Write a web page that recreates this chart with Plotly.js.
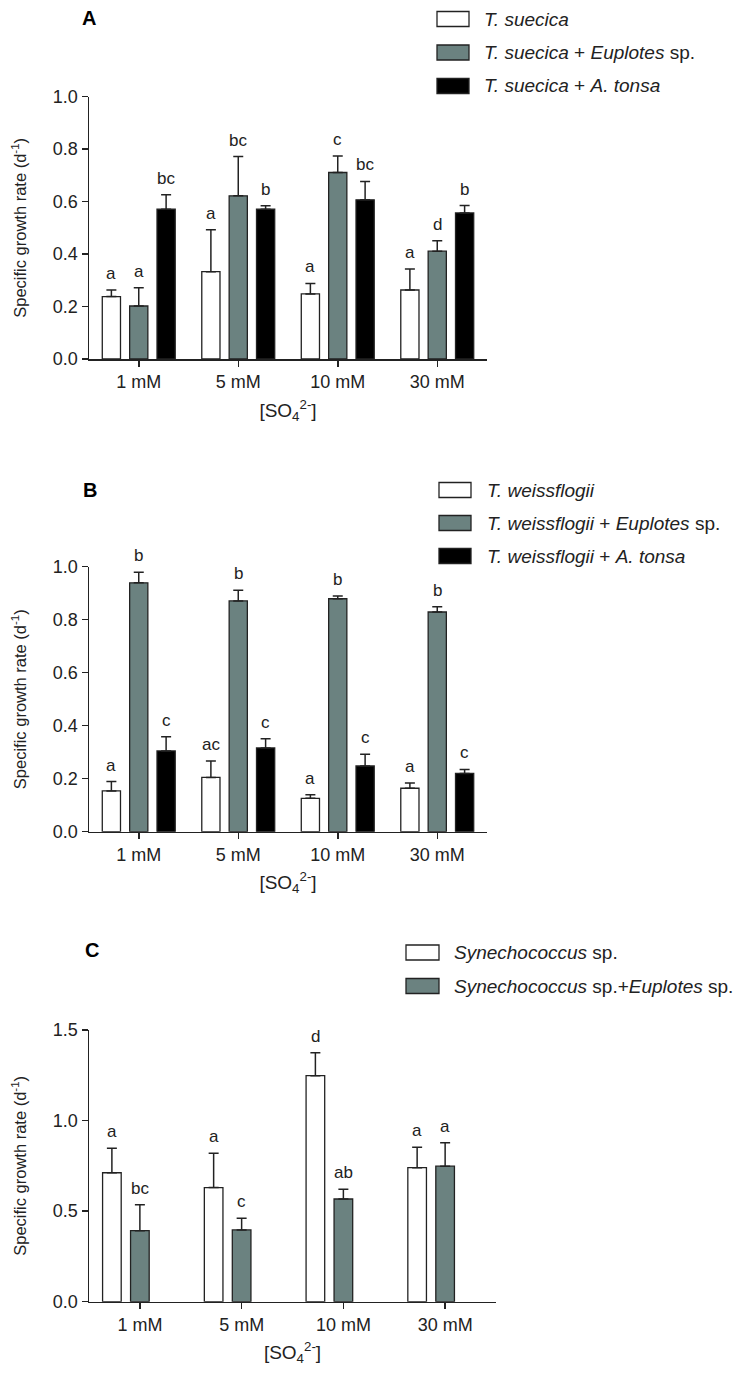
<!DOCTYPE html>
<html>
<head>
<meta charset="utf-8">
<script src="https://cdn.plot.ly/plotly-3.0.1.min.js"></script>
<style>html,body{margin:0;padding:0;background:#fff;}#chart{width:754px;height:1378px;}</style>
</head>
<body>
<div id="chart"></div>
<script>
// ---------- DATA ----------
const categories = ['1 mM', '5 mM', '10 mM', '30 mM'];

// Panel A: T. suecica
const aAlone = [0.238, 0.333, 0.248, 0.263];
const aAloneErr = [0.025, 0.16, 0.04, 0.08];
const aEup = [0.202, 0.622, 0.711, 0.411];
const aEupErr = [0.07, 0.15, 0.063, 0.04];
const aAcartia = [0.571, 0.571, 0.607, 0.557];
const aAcartiaErr = [0.055, 0.013, 0.07, 0.028];
const aLetAlone = ['a', 'a', 'a', 'a'];
const aLetEup = ['a', 'bc', 'c', 'd'];
const aLetAcartia = ['bc', 'b', 'bc', 'b'];

// Panel B: T. weissflogii
const bAlone = [0.154, 0.205, 0.126, 0.164];
const bAloneErr = [0.035, 0.062, 0.013, 0.02];
const bEup = [0.939, 0.871, 0.879, 0.829];
const bEupErr = [0.04, 0.04, 0.01, 0.02];
const bAcartia = [0.305, 0.316, 0.248, 0.22];
const bAcartiaErr = [0.053, 0.035, 0.044, 0.015];
const bLetAlone = ['a', 'ac', 'a', 'a'];
const bLetEup = ['b', 'b', 'b', 'b'];
const bLetAcartia = ['c', 'c', 'c', 'c'];

// Panel C: Synechococcus sp.
const cAlone = [0.712, 0.63, 1.248, 0.74];
const cAloneErr = [0.135, 0.19, 0.127, 0.113];
const cEup = [0.392, 0.396, 0.567, 0.748];
const cEupErr = [0.143, 0.065, 0.054, 0.13];
const cLetAlone = ['a', 'a', 'd', 'a'];
const cLetEup = ['bc', 'c', 'ab', 'a'];

const legendA = ['<i>T. suecica</i>', '<i>T. suecica</i> + <i>Euplotes</i> sp.', '<i>T. suecica</i> + <i>A. tonsa</i>'];
const legendB = ['<i>T. weissflogii</i>', '<i>T. weissflogii</i> + <i>Euplotes</i> sp.', '<i>T. weissflogii</i> + <i>A. tonsa</i>'];
const legendC = ['<i>Synechococcus</i> sp.', '<i>Synechococcus</i> sp.+<i>Euplotes</i> sp.'];

// ---------- STYLE ----------
const W = 754, H = 1378;
const FONT = 'Arial, "Liberation Sans", Helvetica, sans-serif';
const INK = '#222222';
const FILLS = ['#ffffff', '#6b8280', '#000000'];
const BARW = 0.183;
const SLOT = 0.275;
const SLOT_OFF = [-SLOT, 0, SLOT];

const px = v => v / W;
const py = v => 1 - v / H;

const traces = [];
const annotations = [];
const shapes = [];

function addPanel(axisIdx, series, errs, letters) {
  const xa = axisIdx === 1 ? 'x' : 'x' + axisIdx;
  const ya = axisIdx === 1 ? 'y' : 'y' + axisIdx;
  series.forEach((vals, s) => {
    traces.push({
      type: 'bar', x: categories, y: vals, xaxis: xa, yaxis: ya,
      width: BARW, offset: SLOT_OFF[s] - BARW / 2,
      marker: { color: FILLS[s], line: { color: INK, width: 1.3 } },
      error_y: { type: 'data', symmetric: false, array: errs[s], arrayminus: vals.map(() => 0),
                 color: INK, thickness: 1.5, width: 5 },
      showlegend: false, hoverinfo: 'skip'
    });
    vals.forEach((v, i) => {
      annotations.push({
        xref: xa, yref: ya, x: i + SLOT_OFF[s], y: v + errs[s][i],
        text: letters[s][i], showarrow: false, yanchor: 'bottom', xanchor: 'center',
        yshift: 5, font: { family: FONT, size: 17, color: INK }
      });
    });
  });
}

addPanel(1, [aAlone, aEup, aAcartia], [aAloneErr, aEupErr, aAcartiaErr], [aLetAlone, aLetEup, aLetAcartia]);
addPanel(2, [bAlone, bEup, bAcartia], [bAloneErr, bEupErr, bAcartiaErr], [bLetAlone, bLetEup, bLetAcartia]);
addPanel(3, [cAlone, cEup], [cAloneErr, cEupErr], [cLetAlone, cLetEup]);

function addLegend(labels, boxX0, boxX1, textX, rowYs) {
  labels.forEach((lab, k) => {
    const yc = rowYs[k];
    shapes.push({ type: 'rect', xref: 'paper', yref: 'paper',
      x0: px(boxX0), x1: px(boxX1), y0: py(yc + 7.5), y1: py(yc - 7.5),
      fillcolor: FILLS[k], line: { color: INK, width: 1.3 } });
    annotations.push({ xref: 'paper', yref: 'paper', x: px(textX), y: py(yc),
      xanchor: 'left', yanchor: 'middle', showarrow: false, text: lab,
      font: { family: FONT, size: 19, color: INK } });
  });
}
addLegend(legendA, 437, 469, 482, [19, 52.5, 86]);
addLegend(legendB, 439, 471, 485, [490, 523, 556]);
addLegend(legendC, 406, 439, 452, [952.5, 986]);

function panelLabel(t, x, y) {
  annotations.push({ xref: 'paper', yref: 'paper', x: px(x), y: py(y), xanchor: 'center', yanchor: 'middle',
    showarrow: false, text: '<b>' + t + '</b>', font: { family: FONT, size: 20, color: '#000' } });
}
panelLabel('A', 89, 18);
panelLabel('B', 90, 490);
panelLabel('C', 92, 950);

function xAxis(x0, x1, anchor) {
  return {
    domain: [px(x0), px(x1)], anchor: anchor, type: 'category', range: [-0.5, 3.5],
    showline: true, linecolor: INK, linewidth: 1.5, ticks: 'outside', ticklen: 6, tickwidth: 1.5,
    tickcolor: INK, showgrid: false, zeroline: false, fixedrange: true,
    tickfont: { family: FONT, size: 18, color: INK },
    title: { text: '[SO<sub>4</sub><sup>2-</sup>]', font: { family: FONT, size: 19, color: INK }, standoff: 12 },
    automargin: false
  };
}
function yAxis(yTopPx, yBotPx, anchor, range, dtick) {
  return {
    domain: [py(yBotPx), py(yTopPx)], anchor: anchor, range: range, dtick: dtick, tickformat: '.1f',
    showline: true, linecolor: INK, linewidth: 1.5, ticks: 'outside', ticklen: 6, tickwidth: 1.5,
    tickcolor: INK, showgrid: false, zeroline: false, fixedrange: true,
    tickfont: { family: FONT, size: 18, color: INK },
    title: { text: 'Specific growth rate (d<sup>-1</sup>)', font: { family: FONT, size: 16.5, color: INK }, standoff: 22 },
    automargin: false
  };
}

const layout = {
  width: W, height: H,
  margin: { l: 0, r: 0, t: 0, b: 0 },
  paper_bgcolor: '#fff', plot_bgcolor: '#fff',
  barmode: 'overlay', showlegend: false,
  font: { family: FONT, color: INK },
  xaxis: xAxis(89, 487, 'y'),
  yaxis: yAxis(96.7, 359, 'x', [0, 1.0], 0.2),
  xaxis2: xAxis(89, 487, 'y2'),
  yaxis2: yAxis(566.7, 831.7, 'x2', [0, 1.0], 0.2),
  xaxis3: xAxis(89, 496, 'y3'),
  yaxis3: yAxis(1030, 1301.7, 'x3', [0, 1.5], 0.5),
  annotations: annotations,
  shapes: shapes
};

Plotly.newPlot('chart', traces, layout, { staticPlot: true, displayModeBar: false });
</script>
</body>
</html>
